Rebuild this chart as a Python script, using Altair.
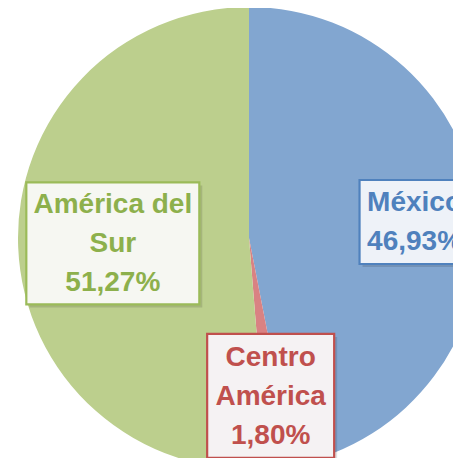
import altair as alt
import pandas as pd
import numpy as np

# ---- data ----
regions = ["México", "Centro América", "América del Sur"]
shares = [46.93, 1.80, 51.27]
label_lines = [["México", "46,93%"], ["Centro", "América", "1,80%"], ["América del", "Sur", "51,27%"]]

# ---- styles ----
slice_colors = ["#82a6d0", "#d98283", "#bccf8d"]
text_colors = ["#4f81bd", "#c0504d", "#8db04c"]
box_fills = ["#eef2f8", "#f5f2f3", "#f6f7f2"]
box_strokes = ["#4f81bd", "#c0504d", "#9bbb59"]

# ---- layout ----
W, H = 445, 450
CX, CY, R = 241, 230, 231
LH = 39
label_r = [0.72, 0.69, 0.59]
box_w = [110, 127, 173]
box_h = [84, 124, 122]

df = pd.DataFrame({"region": regions, "share": shares, "order": list(range(len(regions)))})

total = sum(shares)
cum = np.cumsum([0] + shares[:-1])
mid = (cum + np.array(shares) / 2) / total * 2 * np.pi
lab = pd.DataFrame({
    "region": regions,
    "cx": CX + np.array(label_r) * R * np.sin(mid),
    "cy": CY - np.array(label_r) * R * np.cos(mid),
})
lab["x1"] = lab.cx - np.array(box_w) / 2
lab["x2"] = lab.cx + np.array(box_w) / 2
lab["y1"] = lab.cy - np.array(box_h) / 2
lab["y2"] = lab.cy + np.array(box_h) / 2
lab["sx1"] = lab.x1 + 3
lab["sx2"] = lab.x2 + 3
lab["sy1"] = lab.y1 + 3
lab["sy2"] = lab.y2 + 3
lab["lines"] = label_lines
lab["ty"] = lab.cy - (np.array([len(l) for l in label_lines]) - 1) * LH / 2 + 1
lab["tcol"] = text_colors
lab["bfill"] = box_fills
lab["bstroke"] = box_strokes

pie = alt.Chart(df).mark_arc(radius=R).encode(
    theta=alt.Theta("share:Q", stack=True),
    order=alt.Order("order:Q"),
    color=alt.Color("region:N", scale=alt.Scale(domain=regions, range=slice_colors), legend=None),
    x=alt.value(CX),
    y=alt.value(CY),
)

base = alt.Chart(lab)

shadow = base.mark_rect(color="#000000", opacity=0.12).encode(
    x=alt.X("sx1:Q", scale=None, axis=None),
    x2="sx2:Q",
    y=alt.Y("sy1:Q", scale=None, axis=None),
    y2="sy2:Q",
)

boxes = base.mark_rect(strokeWidth=2.2).encode(
    x=alt.X("x1:Q", scale=None, axis=None),
    x2="x2:Q",
    y=alt.Y("y1:Q", scale=None, axis=None),
    y2="y2:Q",
    fill=alt.Fill("bfill:N", scale=None, legend=None),
    stroke=alt.Stroke("bstroke:N", scale=None, legend=None),
)

texts = base.mark_text(
    font="Liberation Sans", fontSize=28, fontWeight="bold",
    lineHeight=LH, baseline="middle", align="center",
).encode(
    x=alt.X("cx:Q", scale=None, axis=None),
    y=alt.Y("ty:Q", scale=None, axis=None),
    text=alt.Text("lines:N"),
    color=alt.Color("tcol:N", scale=None, legend=None),
)

chart = alt.layer(pie, shadow, boxes, texts).properties(
    width=W, height=H,
    autosize=alt.AutoSizeParams(type="none"),
    padding=0,
).configure(background="white").configure_view(stroke=None)

chart.save("out.html", embed_options={"renderer": "svg", "actions": False})
